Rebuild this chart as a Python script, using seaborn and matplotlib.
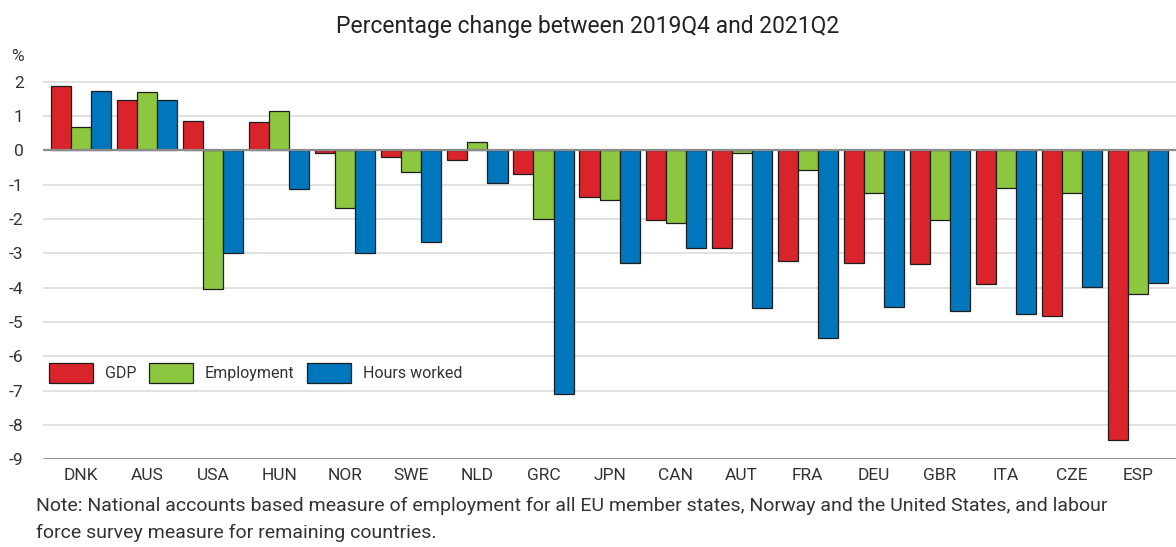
import matplotlib
matplotlib.use("Agg")
import matplotlib.pyplot as plt
import seaborn as sns
import pandas as pd

countries = ["DNK", "AUS", "USA", "HUN", "NOR", "SWE", "NLD", "GRC", "JPN",
             "CAN", "AUT", "FRA", "DEU", "GBR", "ITA", "CZE", "ESP"]
gdp = [1.89, 1.48, 0.85, 0.83, -0.08, -0.18, -0.28, -0.70, -1.35,
       -2.03, -2.85, -3.22, -3.29, -3.31, -3.89, -4.81, -8.44]
employment = [0.68, 1.71, -4.04, 1.14, -1.67, -0.63, 0.25, -2.00, -1.44,
              -2.12, -0.08, -0.58, -1.25, -2.03, -1.10, -1.25, -4.18]
hours = [1.72, 1.47, -3.00, -1.12, -2.98, -2.68, -0.94, -7.09, -3.28,
         -2.83, -4.59, -5.47, -4.55, -4.67, -4.78, -3.99, -3.85]
series_names = ["GDP", "Employment", "Hours worked"]
yticks = list(range(-9, 3))
title = "Percentage change between 2019Q4 and 2021Q2"
note = ("Note: National accounts based measure of employment for all EU member states, Norway and the United States, and labour\n"
        "force survey measure for remaining countries.")

df = pd.DataFrame({
    "country": countries * 3,
    "measure": [series_names[0]] * len(countries) + [series_names[1]] * len(countries) + [series_names[2]] * len(countries),
    "value": gdp + employment + hours,
})

sns.set_theme(style="white")
plt.rcParams["font.family"] = ["Roboto", "DejaVu Sans"]

fig = plt.figure(figsize=(11.76, 5.47), dpi=100)
ax = fig.add_axes([0.0366, 0.1603, 0.9634, 0.709])

palette = {"GDP": "#DA242B", "Employment": "#8DC63F", "Hours worked": "#0077BD"}
sns.barplot(data=df, x="country", y="value", hue="measure", palette=palette,
            width=0.91, saturation=1, edgecolor="#1e1e1e", linewidth=0.9,
            ax=ax, zorder=3)

ax.set_ylim(-9, 2.3)
ax.set_xlim(-0.58, 16.58)
ax.set_yticks(yticks)
ax.set_yticklabels([str(t) for t in yticks])
for t in yticks:
    if t in (0, -9):
        continue
    ax.axhline(t, color="#dcdcdc", lw=1.2, zorder=1)
ax.axhline(0, color="#8c8c8c", lw=1.6, zorder=4)
ax.axhline(-9, color="#8c8c8c", lw=2.0, zorder=4)
for s in ax.spines.values():
    s.set_visible(False)
ax.set_xlabel("")
ax.set_ylabel("")
ax.tick_params(axis="both", length=0, labelsize=12.5, colors="#333333")
ax.tick_params(axis="x", pad=6)
ax.tick_params(axis="y", pad=14)

ax.text(-0.023, 1.02, "%", transform=ax.transAxes, fontsize=12.5, color="#333333",
        ha="center", va="bottom")

fig.text(0.5, 0.952, title, ha="center", va="center", fontsize=16.5, color="#222222")
fig.text(0.031, 0.05, note, ha="left", va="center", fontsize=14, color="#333333",
         linespacing=1.6)

leg = ax.legend(loc="lower left", bbox_to_anchor=(0.005, 0.197), ncol=3, frameon=False,
                fontsize=11.5, handlelength=2.75, handleheight=1.56,
                columnspacing=0.8, handletextpad=0.75, borderpad=0,
                borderaxespad=0, labelcolor="#333333")

fig.savefig("out.png", dpi=100)
